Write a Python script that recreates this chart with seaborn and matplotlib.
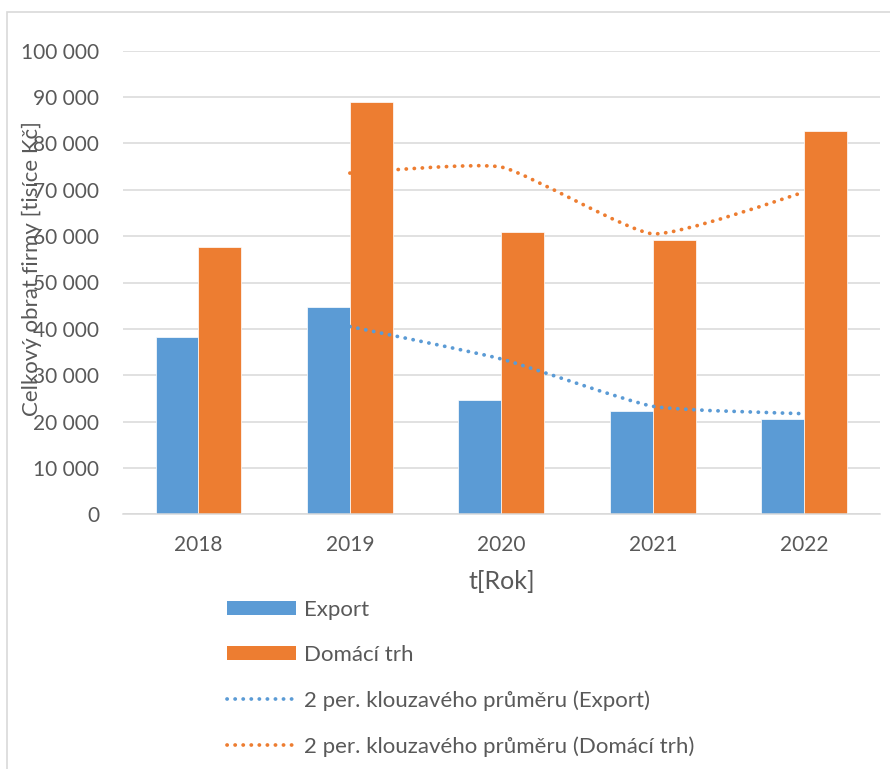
import numpy as np
import pandas as pd
import matplotlib
matplotlib.use("Agg")
import matplotlib.pyplot as plt
import seaborn as sns
from matplotlib.patches import Patch, Rectangle, PathPatch
from matplotlib.path import Path
from matplotlib.lines import Line2D
from matplotlib.ticker import FuncFormatter, MultipleLocator

# ---- data ----
years = ["2018", "2019", "2020", "2021", "2022"]
export = [38300, 44800, 24700, 22300, 20600]
domaci = [57700, 89000, 61000, 59200, 82600]
ma_years = ["2019", "2020", "2021", "2022"]
ma_export = [40500, 33500, 23300, 21700]
ma_domaci = [73600, 74900, 60500, 69500]
series_names = ["Export", "Domácí trh"]
ma_names = ["2 per. klouzavého průměru (Export)",
            "2 per. klouzavého průměru (Domácí trh)"]
y_label = "Celkový obrat firmy [tisíce Kč]"
x_label = "t[Rok]"

BLUE = "#5B9BD5"
ORANGE = "#ED7D31"
TXT = "#595959"
GRID = "#D9D9D9"

sns.set_theme(style="white")
plt.rcParams["font.family"] = ["Lato", "DejaVu Sans"]

df = pd.DataFrame({
    "Rok": years * 2,
    "value": export + domaci,
    "series": [series_names[0]] * len(years) + [series_names[1]] * len(years),
})

fig = plt.figure(figsize=(8.9, 7.69), dpi=100)
ax = fig.add_axes([122.7 / 890, 1 - 514.3 / 769, (880 - 122.7) / 890, (514.3 - 50.7) / 769])

sns.barplot(data=df, x="Rok", y="value", hue="series", order=years,
            hue_order=series_names, palette=[BLUE, ORANGE], width=0.566,
            ax=ax, legend=False, edgecolor="white", linewidth=0.5, saturation=1)

ls = (0, (0.05, 2.1))


def smooth_path(xs, ys, k=12.0):
    """Mildly smoothed path through the given points (like Excel's smoothed line)."""
    P = np.column_stack([xs, ys]).astype(float)
    Pe = np.vstack([P[0], P, P[-1]])
    verts = [tuple(P[0])]
    codes = [Path.MOVETO]
    for i in range(len(P) - 1):
        p0, p1, p2, p3 = Pe[i], Pe[i + 1], Pe[i + 2], Pe[i + 3]
        c1 = p1 + (p2 - p0) / k
        c2 = p2 - (p3 - p1) / k
        verts += [tuple(c1), tuple(c2), tuple(p2)]
        codes += [Path.CURVE4] * 3
    return Path(verts, codes)


xpos = [years.index(y) for y in ma_years]
for vals, col in [(ma_export, BLUE), (ma_domaci, ORANGE)]:
    pp = PathPatch(smooth_path(xpos, vals), fill=False, edgecolor=col, lw=2.7,
                   linestyle=ls, capstyle="round", zorder=5)
    ax.add_patch(pp)

ax.set_xlim(-0.5, len(years) - 0.5)
ax.set_ylim(0, 100000)
ax.yaxis.set_major_locator(MultipleLocator(10000))
ax.yaxis.set_major_formatter(FuncFormatter(lambda v, p: f"{int(v):,}".replace(",", " ")))
ax.grid(axis="y", color=GRID, lw=1.1, zorder=0)
ax.set_axisbelow(True)
for s in ["top", "right", "left"]:
    ax.spines[s].set_visible(False)
ax.spines["bottom"].set_color(GRID)
ax.spines["bottom"].set_linewidth(1.1)
ax.tick_params(axis="y", length=0, pad=17, labelsize=15, labelcolor=TXT)
ax.tick_params(axis="x", length=0, pad=15, labelsize=15, labelcolor=TXT)

ax.set_xlabel(x_label, fontsize=18, color=TXT, va="top")
ax.xaxis.set_label_coords(0.5, -0.12)
ax.set_ylabel(y_label, fontsize=16, color=TXT)
ax.yaxis.set_label_coords(-0.106, 0.529)

handles = [
    Patch(facecolor=BLUE, edgecolor="none"),
    Patch(facecolor=ORANGE, edgecolor="none"),
    Line2D([0], [0], color=BLUE, lw=2.7, linestyle=ls, dash_capstyle="round"),
    Line2D([0], [0], color=ORANGE, lw=2.7, linestyle=ls, dash_capstyle="round"),
]
leg = fig.legend(handles, series_names + ma_names, loc="upper left",
                 bbox_to_anchor=(227 / 890, 1 - 600 / 769), frameon=False,
                 fontsize=16, handlelength=3.1, handleheight=0.6, handletextpad=0.38,
                 labelspacing=1.13, borderpad=0, borderaxespad=0)
for t in leg.get_texts():
    t.set_color(TXT)

fig.patches.append(Rectangle((7 / 890, -0.1), 1.2, 1.1 - 12 / 769, transform=fig.transFigure,
                             fill=False, edgecolor=GRID, lw=1.2, zorder=-1))

fig.savefig("out.png", dpi=100, facecolor="white")
